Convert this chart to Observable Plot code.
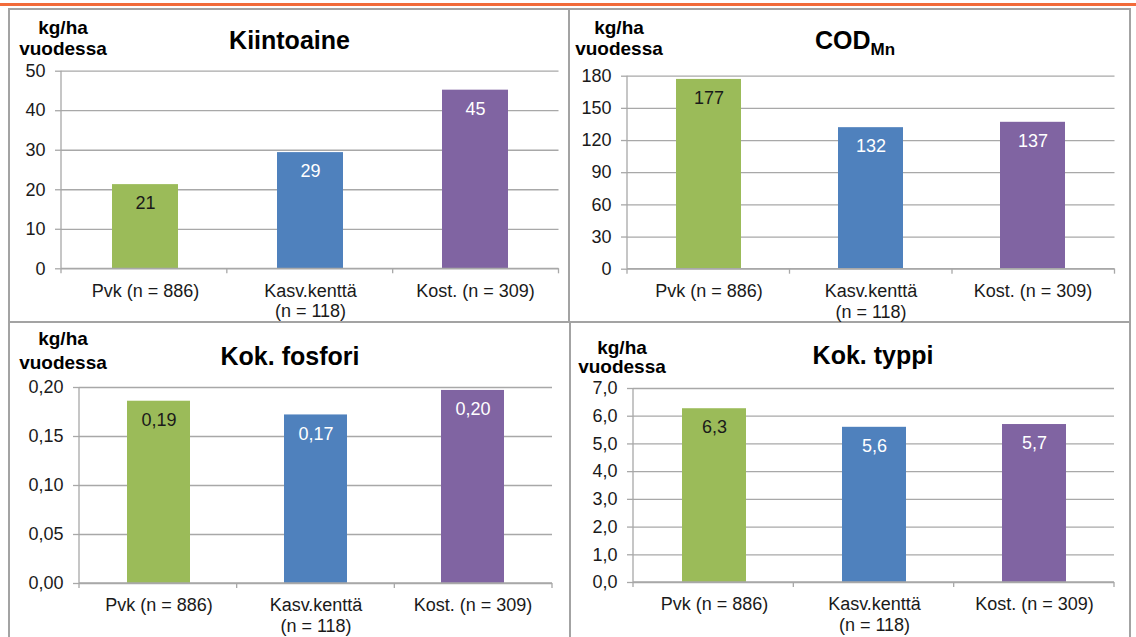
<!DOCTYPE html>
<html>
<head>
<meta charset="utf-8">
<script src="https://cdn.jsdelivr.net/npm/d3@7"></script>
<script src="https://cdn.jsdelivr.net/npm/@observablehq/plot@0.6"></script>
<style>
  html, body { margin: 0; padding: 0; background: #fff; }
  #page { position: relative; width: 1136px; height: 637px; overflow: hidden; background: #fff;
          font-family: "Liberation Sans", Arial, sans-serif; }
  .box { position: absolute; box-sizing: border-box; border: 2px solid #a3a3a3; }
  .chart { position: absolute; }
  .chart svg { overflow: visible; }
  #topline { position: absolute; left: 0; top: 3px; width: 1136px; height: 3px; background: #f26b3a; }
  #overlay { position: absolute; left: 0; top: 0; }
</style>
</head>
<body>
<div id="page">
  <div id="topline"></div>
</div>
<script>
// ---------- data ----------
const categories = ["Pvk (n = 886)", "Kasv.kenttä\n(n = 118)", "Kost. (n = 309)"];
const kiintoaine = [21.3, 29.4, 45.2];
const codMn = [177, 132, 137];
const kokFosfori = [0.186, 0.172, 0.197];
const kokTyppi = [6.27, 5.6, 5.7];

const ticksKiintoaine = [0, 10, 20, 30, 40, 50];
const ticksCod = [0, 30, 60, 90, 120, 150, 180];
const ticksFosfori = [0, 0.05, 0.10, 0.15, 0.20];
const ticksTyppi = [0, 1, 2, 3, 4, 5, 6, 7];

const titles = ["Kiintoaine", "COD", "Kok. fosfori", "Kok. typpi"];
const titleSub = ["", "Mn", "", ""];
const unitLines = ["kg/ha", "vuodessa"];

// ---------- styles ----------
const barColors = ["#9bbb59", "#4f81bd", "#8064a2"];
const labelColors = ["#1a1a1a", "#ffffff", "#ffffff"];
const gridColor = "#a8a8a8";
const textColor = "#1a1a1a";
const FONT = "'Liberation Sans', Arial, sans-serif";

const comma = (digits) => (d) => d.toFixed(digits).replace(".", ",");

const panels = [
  {values: kiintoaine, ticks: ticksKiintoaine, digitsTick: 0, digitsLabel: 0,
   box: {l: 8, t: 8, w: 562, h: 315}, frame: {l: 61, r: 558.5, t: 70.7, b: 268.3},
   title: {x: 289.5, y: 49}, unit: {x: 63, y1: 34, y2: 55}},
  {values: codMn, ticks: ticksCod, digitsTick: 0, digitsLabel: 0,
   box: {l: 568, t: 8, w: 563, h: 315}, frame: {l: 627, r: 1114.5, t: 75.7, b: 268.7},
   title: {x: 855, y: 49}, unit: {x: 619, y1: 34, y2: 55}},
  {values: kokFosfori, ticks: ticksFosfori, digitsTick: 2, digitsLabel: 2,
   box: {l: 8, t: 321, w: 563, h: 320}, frame: {l: 79, r: 552, t: 387, b: 583},
   title: {x: 290, y: 365}, unit: {x: 63, y1: 345, y2: 369}},
  {values: kokTyppi, ticks: ticksTyppi, digitsTick: 1, digitsLabel: 1,
   box: {l: 569, t: 321, w: 562, h: 320}, frame: {l: 633, r: 1114, t: 388, b: 582},
   title: {x: 873, y: 364}, unit: {x: 622, y1: 354, y2: 373}}
];

const page = document.getElementById("page");

panels.forEach((p) => {
  const box = document.createElement("div");
  box.className = "box";
  Object.assign(box.style, {left: p.box.l + "px", top: p.box.t + "px", width: p.box.w + "px", height: p.box.h + "px"});
  page.appendChild(box);
});

panels.forEach((p) => {
  const data = categories.map((c, i) => ({cat: c, value: p.values[i], i}));
  const yMax = p.ticks[p.ticks.length - 1];
  const W = p.box.w, H = p.box.h;
  const mL = p.frame.l - p.box.l, mR = p.box.l + W - p.frame.r;
  const mT = p.frame.t - p.box.t, mB = p.box.t + H - p.frame.b;

  const axisFrame = (index, scales, values, dims) => {
    const g = d3.create("svg:g").attr("stroke", gridColor).attr("stroke-width", 1.3);
    const x0 = dims.marginLeft, x1 = dims.width - dims.marginRight;
    const y0 = scales.y(0), yTop = scales.y(yMax);
    g.append("line").attr("x1", x0).attr("x2", x0).attr("y1", y0).attr("y2", yTop);
    g.append("line").attr("x1", x0).attr("x2", x1).attr("y1", y0).attr("y2", y0);
    const step = (x1 - x0) / categories.length;
    for (let i = 0; i <= categories.length; i++) {
      const xx = x0 + i * step;
      g.append("line").attr("x1", xx).attr("x2", xx).attr("y1", y0).attr("y2", y0 + 5);
    }
    return g.node();
  };

  const chart = Plot.plot({
    width: W, height: H,
    marginLeft: mL, marginRight: mR, marginTop: mT, marginBottom: mB,
    style: {fontFamily: FONT, fontSize: "17px", background: "transparent", color: textColor, overflow: "visible"},
    x: {domain: categories, paddingInner: 0.6, paddingOuter: 0.3, label: null},
    y: {domain: [0, yMax], label: null},
    marks: [
      Plot.gridY(p.ticks, {stroke: gridColor, strokeOpacity: 1, strokeWidth: 1.3}),
      Plot.barY(data, {x: "cat", y: "value", fill: d => barColors[d.i]}),
      axisFrame,
      Plot.axisY(p.ticks, {tickSize: 6, tickPadding: 10, tickFormat: comma(p.digitsTick), label: null,
        stroke: gridColor, strokeWidth: 1.3, fill: textColor, fontSize: 18}),
      Plot.axisX({tickSize: 0, tickPadding: 13, fontSize: 18, lineHeight: 1.15, fill: textColor, label: null}),
      Plot.text(data, {x: "cat", y: "value", text: d => comma(p.digitsLabel)(d.value),
        dy: 19, lineAnchor: "middle", fill: d => labelColors[d.i], fontSize: 18})
    ]
  });
  const wrap = document.createElement("div");
  wrap.className = "chart";
  Object.assign(wrap.style, {left: p.box.l + "px", top: p.box.t + "px"});
  wrap.appendChild(chart);
  page.appendChild(wrap);
});

// overlay for titles and unit labels
const ov = d3.select(page).append("svg").attr("id", "overlay")
  .attr("width", 1136).attr("height", 637)
  .style("font-family", FONT).style("font-weight", "bold").attr("fill", "#000");
panels.forEach((p, pi) => {
  const t = ov.append("text").attr("x", p.title.x).attr("y", p.title.y)
    .attr("text-anchor", "middle").attr("font-size", 25);
  t.append("tspan").text(titles[pi]);
  if (titleSub[pi]) t.append("tspan").attr("font-size", 17).attr("dy", 6).text(titleSub[pi]);
  ov.append("text").attr("x", p.unit.x).attr("y", p.unit.y1).attr("text-anchor", "middle")
    .attr("font-size", 19).text(unitLines[0]);
  ov.append("text").attr("x", p.unit.x).attr("y", p.unit.y2).attr("text-anchor", "middle")
    .attr("font-size", 19).text(unitLines[1]);
});
</script>
</body>
</html>
